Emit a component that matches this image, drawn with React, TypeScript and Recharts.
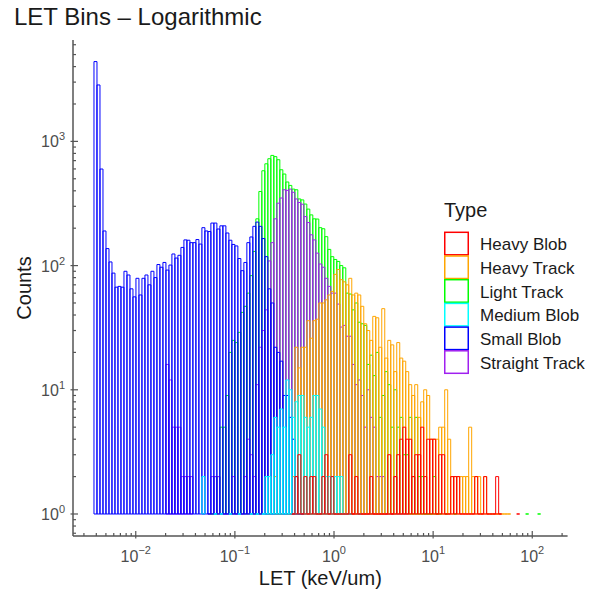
import React from 'react';
import { ComposedChart, Bar, XAxis, YAxis, Legend } from 'recharts';

// Equal-width bins in log10(LET); bin 0 is the first populated bin.
const BIN_LOG_WIDTH = 0.03024;
const BIN0_LOG_EDGE = -2.4214;
const FIRST_BIN = -7;
const LAST_BIN = 157;

const FONT = '"Liberation Sans", Arial, Helvetica, sans-serif';
const AXIS_COLOR = '#555555';
const TICK_TEXT = '#4d4d4d';

// Counts per bin for each event type (index 0 = firstBin)
const heavyBlobFirstBin = 66;
const heavyBlobCounts = [
  1, 2, 3, 1, 2, 1, 2, 2, 1, 1, 2, 3, 1, 2, 1, 1, 1, 1, 1, 3,
  1, 2, 1, 1, 1, 1, 2, 1, 1, 1, 1, 1, 3, 1, 2, 3, 4, 5, 4, 4,
  2, 3, 3, 5, 2, 4, 4, 4, 1, 3, 3, 1, 1, 2, 2, 2, 1, 1, 1, 1,
  1, 2, 1, 1, 2, 1, 1, 1, 2, 1, 0, 0, 0, 0, 0, 1,
];

const heavyTrackFirstBin = 58;
const heavyTrackCounts = [
  1, 0, 2, 1, 1, 0, 1, 1, 2, 22, 15, 22, 22, 36, 26, 36, 37, 50, 50, 53,
  58, 62, 85, 93, 77, 74, 70, 79, 58, 60, 58, 47, 34, 30, 25, 39, 38, 22, 45, 18,
  25, 23, 14, 24, 18, 17, 14, 11, 9, 11, 6, 8, 10, 9, 4, 4, 4, 5, 5, 10,
  4, 2, 2, 2, 2, 2, 2, 5, 2, 2, 2, 1, 2, 1, 1, 1, 1, 1, 1, 1, 1,
];

const lightTrackFirstBin = 38;
const lightTrackCounts = [
  1, 1, 2, 2, 5, 5, 9, 20, 25, 24, 29, 42, 47, 60, 83, 130, 238, 395, 580, 660,
  725, 771, 754, 712, 591, 546, 471, 442, 413, 408, 344, 338, 313, 285, 256, 238, 237, 202, 198, 171,
  135, 118, 112, 108, 100, 96, 60, 59, 44, 50, 35, 34, 33, 16, 19, 13, 20, 6, 9, 14,
  11, 5, 10, 5, 6, 3, 3, 6, 2, 6, 2, 2, 1, 1, 1, 2, 1, 1, 0, 1,
  0, 0, 1, 0, 0, 0, 0, 0, 0, 0, 0, 0, 0, 0, 0, 0, 0, 0, 0, 0,
  0, 0, 0, 0, 0, 0, 1, 0, 0, 0, 1,
];

const mediumBlobFirstBin = 36;
const mediumBlobCounts = [
  2, 0, 0, 0, 1, 0, 1, 0, 0, 1, 0, 0, 1, 0, 0, 0, 1, 0, 1, 0,
  1, 2, 2, 3, 6, 5, 7, 5, 12, 10, 6, 8, 9, 9, 6, 5, 6, 9, 9, 7,
  5, 2, 2, 2, 2, 2, 2, 1, 1, 1, 0, 0, 1,
];

const smallBlobFirstBin = 0;
const smallBlobCounts = [
  4390, 2846, 599, 190, 137, 107, 87, 67, 68, 67, 90, 84, 65, 56, 79, 58, 79, 84, 70, 90,
  80, 102, 97, 106, 92, 101, 124, 115, 121, 140, 161, 160, 153, 153, 162, 149, 202, 190, 188, 220,
  220, 197, 209, 209, 183, 160, 148, 144, 114, 91, 106, 153, 170, 207, 224, 207, 165, 118, 65, 50,
  22, 20, 17, 9, 9, 6, 4, 2, 1, 1,
];

const straightTrackFirstBin = 24;
const straightTrackCounts = [
  16, 12, 5, 5, 5, 2, 2, 2, 2, 0, 0, 0, 1, 0, 1, 2, 2, 2, 1, 1,
  1, 1, 2, 1, 1, 1, 2, 4, 3, 2, 11, 22, 30, 44, 109, 153, 238, 318, 350, 408,
  403, 413, 389, 344, 322, 312, 248, 222, 177, 161, 126, 103, 97, 79, 68, 60, 60, 49, 32, 33,
  27, 27, 16, 11, 12, 9, 5, 10, 6, 5, 2, 2, 2, 1, 1, 1, 2, 1, 1, 1, 1,
];

type SeriesDef = { key: string; name: string; color: string; firstBin: number; counts: number[] };

// Legend order
const series: SeriesDef[] = [
  { key: 'heavyBlob', name: 'Heavy Blob', color: '#ff0000', firstBin: heavyBlobFirstBin, counts: heavyBlobCounts },
  { key: 'heavyTrack', name: 'Heavy Track', color: '#ffa500', firstBin: heavyTrackFirstBin, counts: heavyTrackCounts },
  { key: 'lightTrack', name: 'Light Track', color: '#00ff00', firstBin: lightTrackFirstBin, counts: lightTrackCounts },
  { key: 'mediumBlob', name: 'Medium Blob', color: '#00ffff', firstBin: mediumBlobFirstBin, counts: mediumBlobCounts },
  { key: 'smallBlob', name: 'Small Blob', color: '#0000ff', firstBin: smallBlobFirstBin, counts: smallBlobCounts },
  { key: 'straightTrack', name: 'Straight Track', color: '#a020f0', firstBin: straightTrackFirstBin, counts: straightTrackCounts },
];

// Paint order, back to front
const drawOrder = ['lightTrack', 'straightTrack', 'heavyTrack', 'smallBlob', 'mediumBlob', 'heavyBlob'];

const xMajorTicks = [0.01, 0.1, 1, 10, 100];
const yMajorTicks = [1, 10, 100, 1000];
const minorSteps = [2, 3, 4, 5, 6, 7, 8, 9];

const X_DOMAIN: [number, number] = [
  Math.pow(10, BIN0_LOG_EDGE + FIRST_BIN * BIN_LOG_WIDTH),
  Math.pow(10, BIN0_LOG_EDGE + (LAST_BIN + 1) * BIN_LOG_WIDTH),
];
const Y_DOMAIN: [number, number] = [0.665, 6550];

const within = (v: number, d: [number, number]) => v >= d[0] * 0.9999 && v <= d[1] * 1.0001;

const decadeTicks = (majors: number[], lowest: number, domain: [number, number]) => {
  const out: number[] = [];
  for (let p = lowest; p <= majors[majors.length - 1] * 10; p *= 10) {
    out.push(p);
    for (const m of minorSteps) out.push(+(p * m).toPrecision(6));
  }
  return out.filter((v) => within(v, domain));
};

const X_TICKS = decadeTicks(xMajorTicks, 0.001, X_DOMAIN);
const Y_TICKS = decadeTicks(yMajorTicks, 0.1, Y_DOMAIN);

const isMajor = (v: number) => Math.abs(Math.log10(v) - Math.round(Math.log10(v))) < 1e-6;
const expText = (v: number) => {
  const e = Math.round(Math.log10(v));
  return e < 0 ? `\u2212${-e}` : `${e}`;
};

// Table rows: one per bin, ranged [1, count] so bars rise from 10^0
const rows: any[] = [];
for (let b = FIRST_BIN; b <= LAST_BIN; b++) {
  const row: any = { bin: b, let: Math.pow(10, BIN0_LOG_EDGE + (b + 0.5) * BIN_LOG_WIDTH) };
  for (const s of series) {
    const c = s.counts[b - s.firstBin];
    if (c && c > 0) row[s.key] = [1, c];
  }
  rows.push(row);
}

const outlineShape = (key: string, color: string) => (props: any) => {
  const { x, y, width, height, payload } = props;
  if (!payload || !payload[key]) return null;
  if (![x, y, width, height].every((n) => Number.isFinite(n))) return null;
  const top = Math.min(y, y + height);
  const bottom = Math.max(y, y + height);
  return (
    <path
      d={`M${x},${bottom}V${top}H${x + width}V${bottom}Z`}
      fill="none"
      stroke={color}
      strokeWidth={1}
    />
  );
};

const XTick = (props: any) => {
  const { x, y, payload } = props;
  const v = payload.value;
  const major = isMajor(v);
  return (
    <g>
      <line x1={x} x2={x} y1={y - (major ? 5 : 3)} y2={y + (major ? 2.5 : 0)} stroke={AXIS_COLOR} strokeWidth={1.2} />
      {major && (
        <text x={x} y={y + 26} textAnchor="middle" fill={TICK_TEXT} fontSize={16} fontFamily={FONT}>
          10
          <tspan dy={-8} fontSize={11}>{expText(v)}</tspan>
        </text>
      )}
    </g>
  );
};

const YTick = (props: any) => {
  const { x, y, payload } = props;
  const v = payload.value;
  const major = isMajor(v);
  return (
    <g>
      <line x1={x - (major ? 2.5 : 0)} x2={x + (major ? 5 : 3)} y1={y} y2={y} stroke={AXIS_COLOR} strokeWidth={1.2} />
      {major && (
        <text x={x - 8} y={y + 6} textAnchor="end" fill={TICK_TEXT} fontSize={16} fontFamily={FONT}>
          10
          <tspan dy={-7} fontSize={11}>{expText(v)}</tspan>
        </text>
      )}
    </g>
  );
};

const xTitle = (props: any) => {
  const vb = props.viewBox || {};
  return (
    <text x={vb.x + vb.width / 2} y={vb.y + 49} textAnchor="middle" fill="#1a1a1a" fontSize={20} fontFamily={FONT}>
      LET (keV/um)
    </text>
  );
};

const yTitle = (props: any) => {
  const vb = props.viewBox || {};
  const cx = vb.x + 18;
  const cy = vb.y + vb.height / 2;
  return (
    <text x={cx} y={cy} transform={`rotate(-90, ${cx}, ${cy})`} textAnchor="middle" fill="#1a1a1a" fontSize={20} fontFamily={FONT}>
      Counts
    </text>
  );
};

const TypeLegend = () => (
  <svg width={160} height={185} style={{ display: 'block', overflow: 'visible' }}>
    <text x={0} y={22} fontSize={20} fill="#1a1a1a" fontFamily={FONT}>Type</text>
    {series.map((s, i) => {
      const top = 37.3 + i * 23.7;
      return (
        <g key={s.key}>
          <rect x={0.75} y={top} width={23.5} height={22.5} fill="none" stroke={s.color} strokeWidth={1.5} />
          <text x={36} y={top + 18} fontSize={17} fill="#1a1a1a" fontFamily={FONT}>{s.name}</text>
        </g>
      );
    })}
  </svg>
);

export default function App() {
  return (
    <div style={{ position: 'absolute', left: 0, top: 0, width: 599, height: 597, background: '#ffffff' }}>
      <div
        style={{
          position: 'absolute',
          left: 14,
          top: 5,
          fontFamily: FONT,
          fontSize: 24,
          lineHeight: '24px',
          color: '#1a1a1a',
          whiteSpace: 'nowrap',
        }}
      >
        LET Bins – Logarithmic
      </div>
      <ComposedChart
        width={599}
        height={597}
        data={rows}
        margin={{ top: 40, right: 31.4, bottom: 11, left: 13 }}
        barCategoryGap={0}
        barGap={0}
      >
        <XAxis
          xAxisId="let"
          dataKey="let"
          type="number"
          scale="log"
          domain={X_DOMAIN}
          allowDataOverflow
          ticks={X_TICKS}
          interval={0}
          tick={<XTick />}
          tickLine={false}
          tickSize={0}
          tickMargin={0}
          axisLine={{ stroke: AXIS_COLOR, strokeWidth: 1.5 }}
          height={50}
          label={xTitle}
        />
        {drawOrder.map((k) => (
          <XAxis key={`ax-${k}`} xAxisId={k} dataKey="bin" type="category" hide height={0} />
        ))}
        <YAxis
          type="number"
          scale="log"
          domain={Y_DOMAIN}
          allowDataOverflow
          ticks={Y_TICKS}
          interval={0}
          tick={<YTick />}
          tickLine={false}
          tickSize={0}
          tickMargin={0}
          axisLine={{ stroke: AXIS_COLOR, strokeWidth: 1.5 }}
          width={60}
          label={yTitle}
        />
        {drawOrder.map((k) => {
          const s = series.find((d) => d.key === k)!;
          return (
            <Bar
              key={k}
              xAxisId={k}
              dataKey={k}
              name={s.name}
              isAnimationActive={false}
              shape={outlineShape(k, s.color)}
            />
          );
        })}
        <Legend
          layout="vertical"
          align="center"
          verticalAlign="middle"
          content={() => <TypeLegend />}
          wrapperStyle={{ left: 444, top: 195, width: 160, height: 185 }}
        />
      </ComposedChart>
    </div>
  );
}
